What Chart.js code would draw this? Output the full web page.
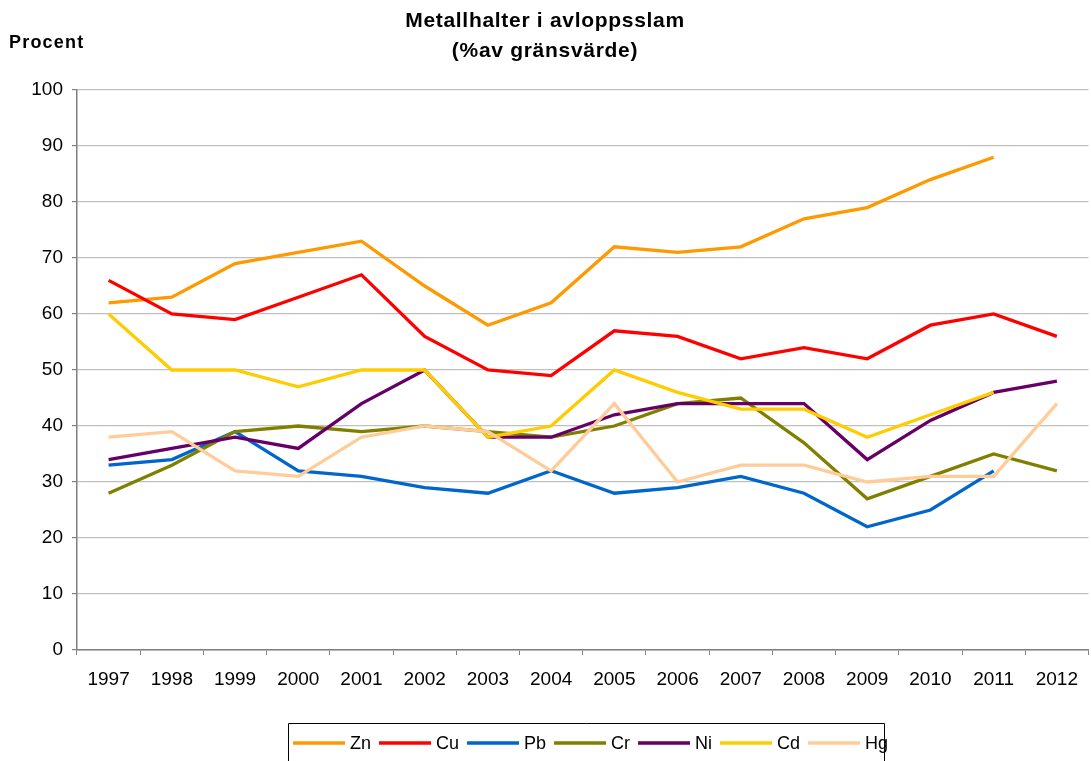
<!DOCTYPE html>
<html>
<head>
<meta charset="utf-8">
<script src="https://cdn.jsdelivr.net/npm/chart.js@4"></script>
<style>
html,body{margin:0;padding:0;background:#fff;}
#wrap{width:1091px;height:761px;position:relative;}
</style>
</head>
<body>
<div id="wrap"><canvas id="c" width="1091" height="761"></canvas></div>
<script>
const years = ['1997','1998','1999','2000','2001','2002','2003','2004','2005','2006','2007','2008','2009','2010','2011','2012'];
const yTicks = [0,10,20,30,40,50,60,70,80,90,100];
const zn = [62,63,69,71,73,65,58,62,72,71,72,77,79,84,88,null];
const cu = [66,60,59,63,67,56,50,49,57,56,52,54,52,58,60,56];
const pb = [33,34,39,32,31,29,28,32,28,29,31,28,22,25,32,null];
const cr = [28,33,39,40,39,40,39,38,40,44,45,37,27,31,35,32];
const ni = [34,36,38,36,44,50,38,38,42,44,44,44,34,41,46,48];
const cd = [60,50,50,47,50,50,38,40,50,46,43,43,38,42,46,null];
const hg = [38,39,32,31,38,40,39,32,44,30,33,33,30,31,31,44];
const seriesNames = ['Zn','Cu','Pb','Cr','Ni','Cd','Hg'];
const seriesColors = ['#FF9900','#FF0000','#0066CC','#808000','#660066','#FFCC00','#FFCC99'];
const seriesData = [zn,cu,pb,cr,ni,cd,hg];
const titleLines = ['Metallhalter i avloppsslam','(%av gränsvärde)'];
const yTitle = 'Procent';

const FONT = '"Liberation Sans", Arial, sans-serif';

const datasets = seriesNames.map((n,i)=>({
  label:n,
  data:seriesData[i],
  borderColor:seriesColors[i],
  backgroundColor:seriesColors[i],
  borderWidth:3.3,
  pointRadius:0,
  fill:false,
  tension:0,
  spanGaps:false,
  order: seriesNames.length - i
}));

const decor = {
  id:'decor',
  afterDraw(chart){
    const ctx = chart.ctx;
    ctx.save();
    ctx.fillStyle = '#000';
    ctx.textBaseline = 'alphabetic';
    ctx.textAlign = 'center';
    ctx.font = 'bold 21px ' + FONT;
    try { ctx.letterSpacing = '0.7px'; } catch(e) {}
    ctx.fillText(titleLines[0], 545, 27);
    ctx.fillText(titleLines[1], 545, 57);
    ctx.font = 'bold 18px ' + FONT;
    try { ctx.letterSpacing = '1.2px'; } catch(e) {}
    ctx.textAlign = 'left';
    ctx.fillText(yTitle, 9, 48);
    try { ctx.letterSpacing = '0px'; } catch(e) {}
    // legend
    const boxL = 288.5, boxT = 723.5, boxR = 884.5;
    ctx.strokeStyle = '#000';
    ctx.lineWidth = 1;
    ctx.beginPath();
    ctx.moveTo(boxL, 770); ctx.lineTo(boxL, boxT); ctx.lineTo(boxR, boxT); ctx.lineTo(boxR, 770);
    ctx.stroke();
    ctx.font = '18px ' + FONT;
    ctx.textBaseline = 'middle';
    let x = 293;
    const ly = 743;
    chart.data.datasets.forEach(ds=>{
      ctx.strokeStyle = ds.borderColor;
      ctx.lineWidth = 3.3;
      ctx.beginPath();
      ctx.moveTo(x, ly); ctx.lineTo(x+52, ly);
      ctx.stroke();
      ctx.fillStyle = '#000';
      ctx.fillText(ds.label, x+57, ly+1);
      x += 57 + ctx.measureText(ds.label).width + 8;
    });
    ctx.restore();
  }
};

new Chart(document.getElementById('c'), {
  type:'line',
  data:{labels:years, datasets},
  options:{
    responsive:false,
    animation:false,
    events:[],
    layout:{padding:{top:90,right:0,bottom:0,left:0}},
    plugins:{legend:{display:false},tooltip:{enabled:false},title:{display:false}},
    scales:{
      x:{
        offset:true,
        grid:{display:true,drawOnChartArea:false,drawTicks:true,tickLength:5,color:'#808080',offset:true},
        border:{display:true,color:'#808080',width:1.5},
        ticks:{color:'#000',font:{family:FONT,size:19},padding:13,maxRotation:0,autoSkip:false},
        afterFit(s){ s.height = 111; }
      },
      y:{
        min:0,max:100,
        afterBuildTicks(s){ s.ticks = yTicks.map(v=>({value:v})); },
        grid:{color:'#c0c0c0',lineWidth:1.2,drawTicks:true,tickLength:5,tickColor:'#808080'},
        border:{display:true,color:'#808080',width:1.5},
        ticks:{color:'#000',font:{family:FONT,size:19},padding:9},
        afterFit(s){ s.width = 77; }
      }
    }
  },
  plugins:[decor]
});
</script>
</body>
</html>
